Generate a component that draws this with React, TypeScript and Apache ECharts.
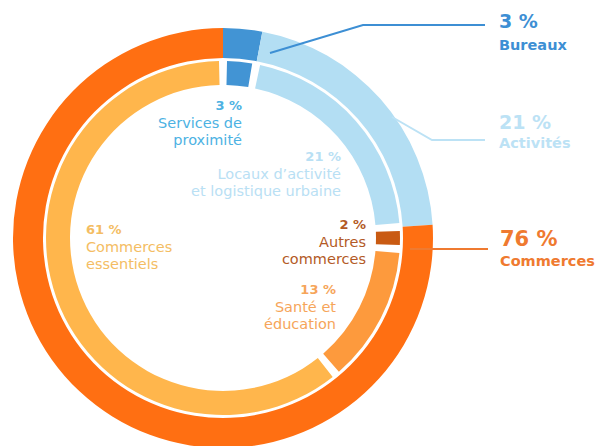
import React, { useEffect, useRef } from "react";
import * as echarts from "echarts";

// ---- Data ----
const outerCategories = ["Bureaux", "Activités", "Commerces"];
const outerValues = [3, 21, 76];
const outerColors = ["#4294d4", "#b3def3", "#ff6f12"];

const innerCategories = [
  "Services de proximité",
  "Locaux d’activité et logistique urbaine",
  "Autres commerces",
  "Santé et éducation",
  "Commerces essentiels",
];
const innerValues = [3, 21, 2, 13, 61];
const innerColors = ["#4294d4", "#b3def3", "#c95a12", "#fd9a3d", "#ffb64c"];
const innerLabelLines = [
  ["Services de", "proximité"],
  ["Locaux d’activité", "et logistique urbaine"],
  ["Autres", "commerces"],
  ["Santé et", "éducation"],
  ["Commerces", "essentiels"],
];

// ---- Styling / layout ----
const FONT = "'DejaVu Sans', 'Noto Sans', sans-serif";
const CENTER = [223, 238];
const outerTextColors = ["#3d8fd4", "#bce2f5", "#ef7a30"];
const innerTextColors = ["#4db2e3", "#b9e0f4", "#b35a26", "#f6a55a", "#f4bd63"];
// label anchor positions [x, yPercent, align]
const innerLabelPos: [number, number, string][] = [
  [242, 105, "right"],
  [341, 156, "right"],
  [366, 224, "right"],
  [336, 289, "right"],
  [86, 229, "left"],
];
const outerLabelPos: [number, number, number, number][] = [
  // x, yPercent, yName, percentFontSize
  [499, 21, 45, 19],
  [499, 122, 143, 19],
  [500, 239, 261, 21],
];
const outerLeaders: number[][][] = [
  [[270, 53], [363, 25], [485, 25]],
  [[392, 117], [432, 140], [485, 140]],
  [[410, 249], [488, 249]],
];

export default function App() {
  const ref = useRef<HTMLDivElement>(null);
  useEffect(() => {
    if (!ref.current) return;
    const chart = echarts.init(ref.current, undefined, { renderer: "svg" });

    const graphics: any[] = [];
    outerLeaders.forEach((pts, i) => {
      graphics.push({
        type: "polyline",
        z: 100,
        shape: { points: pts },
        style: { stroke: outerTextColors[i], lineWidth: 2, fill: null },
      });
    });
    outerCategories.forEach((name, i) => {
      const [x, yp, yn, fs] = outerLabelPos[i];
      graphics.push({
        type: "text",
        z: 100,
        x,
        y: yp,
        style: {
          text: `${outerValues[i]} %`,
          fill: outerTextColors[i],
          fontSize: fs,
          fontWeight: 700,
          fontFamily: FONT,
          align: "left",
          verticalAlign: "middle",
        },
      });
      graphics.push({
        type: "text",
        z: 100,
        x,
        y: yn,
        style: {
          text: name,
          fill: outerTextColors[i],
          fontSize: 14.5,
          fontWeight: 700,
          fontFamily: FONT,
          align: "left",
          verticalAlign: "middle",
        },
      });
    });
    innerCategories.forEach((_, i) => {
      const [x, y, align] = innerLabelPos[i];
      const color = innerTextColors[i];
      graphics.push({
        type: "text",
        z: 100,
        x,
        y,
        style: {
          text: `${innerValues[i]} %`,
          fill: color,
          fontSize: 13,
          fontWeight: 700,
          fontFamily: FONT,
          align,
          verticalAlign: "middle",
        },
      });
      innerLabelLines[i].forEach((line, j) => {
        graphics.push({
          type: "text",
          z: 100,
          x,
          y: y + 17.5 + j * 17.5,
          style: {
            text: line,
            fill: color,
            fontSize: 14.5,
            fontWeight: 400,
            fontFamily: FONT,
            align,
            verticalAlign: "middle",
          },
        });
      });
    });

    chart.setOption({
      animation: false,
      backgroundColor: "#ffffff",
      series: [
        {
          type: "pie",
          name: "outer",
          center: CENTER,
          radius: [180, 210],
          startAngle: 90,
          clockwise: true,
          silent: true,
          label: { show: false },
          labelLine: { show: false },
          data: outerCategories.map((name, i) => ({
            name,
            value: outerValues[i],
            itemStyle: { color: outerColors[i] },
          })),
        },
        {
          type: "pie",
          name: "inner",
          center: CENTER,
          radius: [153, 177],
          startAngle: 90,
          clockwise: true,
          padAngle: 2.6,
          silent: true,
          label: { show: false },
          labelLine: { show: false },
          data: innerCategories.map((name, i) => ({
            name,
            value: innerValues[i],
            itemStyle: { color: innerColors[i] },
          })),
        },
      ],
      graphic: graphics,
    });
    return () => chart.dispose();
  }, []);
  return (
    <div
      ref={ref}
      style={{ position: "fixed", left: 0, top: 0, width: 603, height: 446, background: "#fff" }}
    />
  );
}
